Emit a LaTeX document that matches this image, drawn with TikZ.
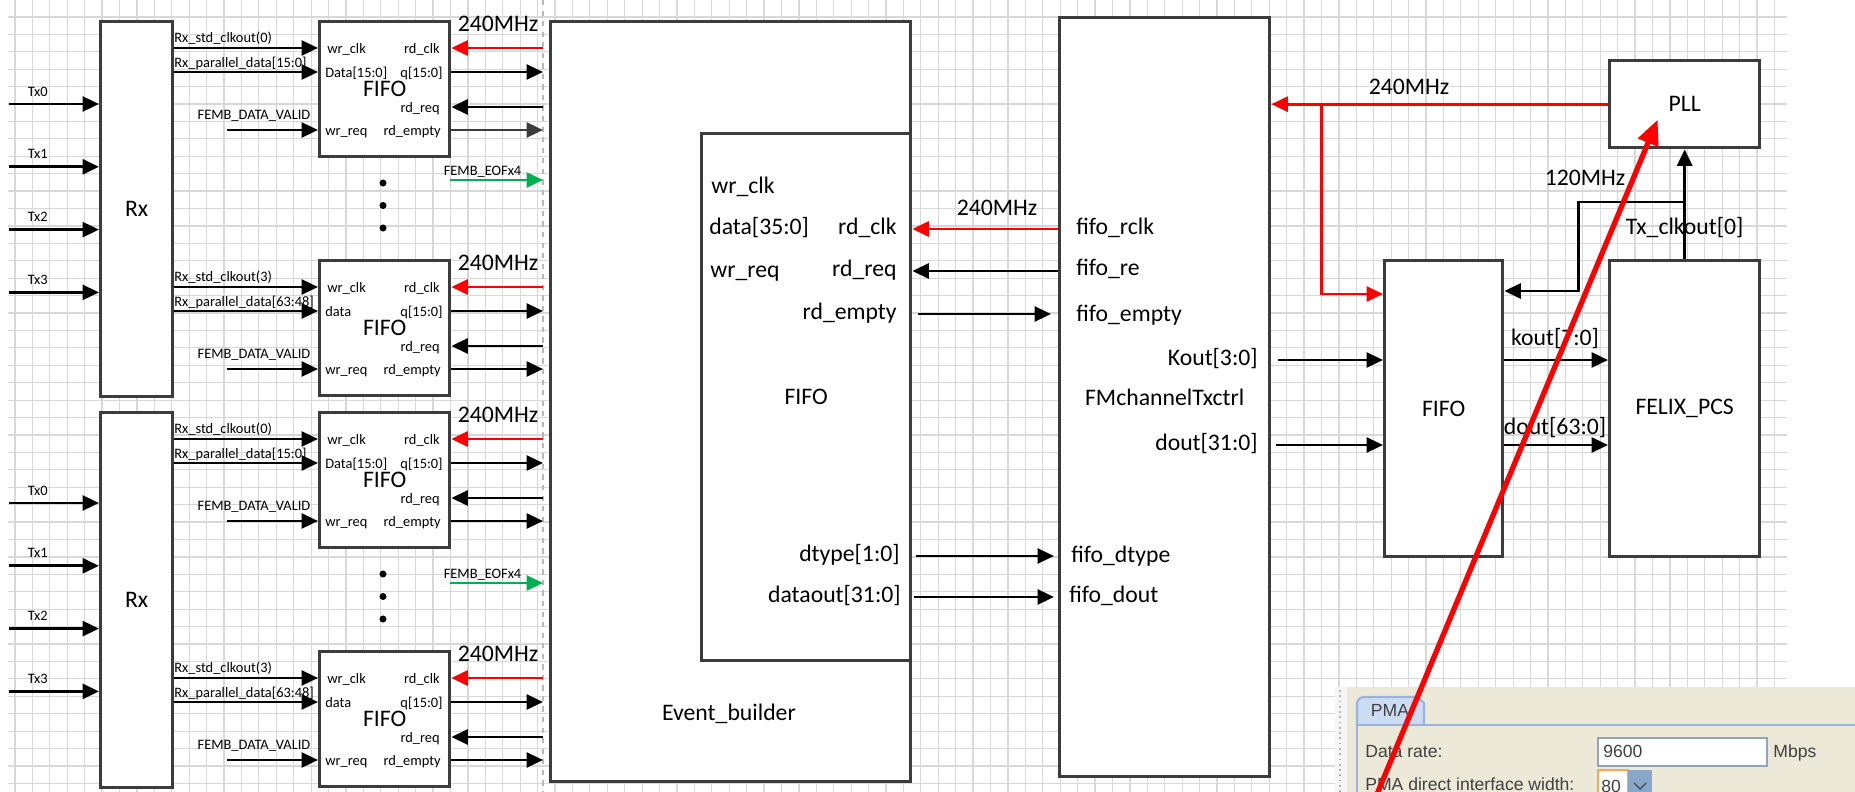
\documentclass[tikz,border=0pt]{standalone}
\usepackage{fontspec}
\setmainfont{Carlito}
\newfontfamily\finestra{Liberation Sans}
\usetikzlibrary{positioning,calc,arrows.meta}
\definecolor{vora}{RGB}{60,60,60}
\definecolor{rellotge}{RGB}{255,0,0}
\definecolor{verd}{RGB}{0,176,80}
\definecolor{reixa}{RGB}{216,216,216}
\definecolor{panell}{RGB}{236,233,216}
\definecolor{pestanya}{RGB}{204,221,243}
\definecolor{voraBlava}{RGB}{152,180,218}
\definecolor{boto}{RGB}{138,166,200}
\tikzset{
    Bloc/.style={draw=vora, line width=1.9pt, fill=white, rectangle, anchor=north west, inner sep=0pt, font=\fontsize{13.5}{15}\selectfont},
    Senyal/.style={line width=1.6pt, -{Triangle[length=3.3mm,width=3mm]}},
    Rellotge/.style={Senyal, draw=rellotge},
    Petit/.style={font=\fontsize{8.2}{9}\selectfont, inner sep=0pt, text height=1.6ex, text depth=.4ex},
    Gran/.style={font=\fontsize{13.5}{15}\selectfont, inner sep=0pt, text height=1.6ex, text depth=.4ex},
    Reixa/.style={draw=reixa, line width=0.7pt},
    Finestra/.style={font=\finestra\fontsize{10}{12}\selectfont, text=black!75, inner sep=0pt, text height=1.6ex, text depth=.4ex},
    Nota/.style={draw=rellotge, line width=3pt, -{Triangle[length=5mm,width=4.2mm]}}
    }

\begin{document}
\begin{tikzpicture}[x=0.2mm, y=-0.2mm]
\useasboundingbox (0,0) rectangle (1855,792);
\fill[white] (0,0) rectangle (1855,792);

% reixa del full
\foreach \k in {0,...,101} \draw[Reixa] ({15+17.42*\k},0) -- ++(0,792);
\foreach \k in {0,...,44} \draw[Reixa] (8,{16.9+17.42*\k}) -- (1787,{16.9+17.42*\k});
\coordinate (Tall) at (543,0);
\draw[gray!55, dashed, line width=0.8pt] (Tall) -- ++(0,792);

% receptors
\foreach \g/\ry/\tx/\eof in {A/20/104/180, B/411/503/583}{
  \node[Bloc, minimum width=14.4mm, minimum height=75mm] (Rx\g) at (99,\ry) {Rx};
  \foreach \n in {0,...,3}{
    \coordinate (Tx\g\n) at (9,{\tx+62.8*\n});
    \draw[Senyal] (Tx\g\n) -- (Tx\g\n -| Rx\g.west) node[Petit, pos=0.32, yshift=2.6mm] {Tx\n};
  }
  \foreach \d in {0,1,2} \fill (383,{\ry+163+22.5*\d}) circle (2pt);
  \coordinate (Eof\g) at (450,\eof);
  \draw[Senyal, draw=verd] (Eof\g) -- (Tall |- Eof\g) node[Petit, pos=0.35, yshift=2mm] {FEMB\_EOFx4};
}

\foreach \i/\fy/\g/\clk/\pd/\din/\col in {1/20/A/0/15:0/Data[15:0]/vora, 2/259/A/3/63:48/data/black, 3/411/B/0/15:0/Data[15:0]/black, 4/650/B/3/63:48/data/black}{
  \node[Bloc, minimum width=26mm, minimum height=27mm] (F\i) at (318,\fy) {FIFO};
  \node[Petit, anchor=west] (wc\i) at (327,{\fy+28}) {wr\_clk};
  \node[Petit, anchor=east] (rc\i) at (440,{\fy+28}) {rd\_clk};
  \node[Petit, anchor=west] (di\i) at (325,{\fy+52}) {\din};
  \node[Petit, anchor=east] (qo\i) at (443,{\fy+52}) {q[15:0]};
  \node[Petit, anchor=east] (rr\i) at (440,{\fy+87}) {rd\_req};
  \node[Petit, anchor=west] (wr\i) at (325,{\fy+110}) {wr\_req};
  \node[Petit, anchor=east] (re\i) at (441,{\fy+110}) {rd\_empty};
  \node[Petit, anchor=west] (ck\i) at (174,{\fy+17}) {Rx\_std\_clkout(\clk)};
  \node[Petit, anchor=west] (pd\i) at (174,{\fy+42}) {Rx\_parallel\_data[\pd]};
  \node[Petit] (dv\i) at (254,{\fy+94}) {FEMB\_DATA\_VALID};
  \node[Gran] (MHz\i) at (498,{\fy+6}) {240MHz};
  \coordinate (Val\i) at (227,{\fy+110});
  \draw[Senyal] (Rx\g.east |- wc\i) -- (F\i.west |- wc\i);
  \draw[Senyal] (Rx\g.east |- di\i) -- (F\i.west |- di\i);
  \draw[Senyal] (Val\i) -- (F\i.west |- Val\i);
  \draw[Rellotge] (Tall |- rc\i) -- (F\i.east |- rc\i);
  \draw[Senyal] (F\i.east |- qo\i) -- (Tall |- qo\i);
  \draw[Senyal] (Tall |- rr\i) -- (F\i.east |- rr\i);
  \draw[Senyal, draw=\col] (F\i.east |- re\i) -- (Tall |- re\i);
}

% constructor d'events
\node[Bloc, minimum width=72mm, minimum height=152mm] (EB) at (549,20) {};
\node[Gran] (EBnom) at (729,715) {Event\_builder};
\node[Bloc, minimum width=41.8mm, minimum height=105.4mm] (FifoEB) at (700,132) {FIFO};
\node[Gran, anchor=west] (eWc) at (711,188) {wr\_clk};
\node[Gran, anchor=west] (eDin) at (709,229) {data[35:0]};
\node[Gran, anchor=west] (eWr) at (710,272) {wr\_req};
\node[Gran, anchor=east] (eRc) at (897,229) {rd\_clk};
\node[Gran, anchor=east] (eRr) at (897,271) {rd\_req};
\node[Gran, anchor=east] (eRe) at (897,314) {rd\_empty};
\node[Gran, anchor=east] (eTy) at (900,556) {dtype[1:0]};
\node[Gran, anchor=east] (eDo) at (901,597) {dataout[31:0]};

\node[Bloc, minimum width=42mm, minimum height=151.8mm] (FMC) at (1058,16) {FMchannelTxctrl};
\node[Gran, anchor=west] (fRc) at (1076,229) {fifo\_rclk};
\node[Gran, anchor=west] (fRe) at (1076,270) {fifo\_re};
\node[Gran, anchor=west] (fEm) at (1076,316) {fifo\_empty};
\node[Gran, anchor=west] (fTy) at (1071,557) {fifo\_dtype};
\node[Gran, anchor=west] (fDo) at (1069,597) {fifo\_dout};
\node[Gran, anchor=east] (KoutTx) at (1258,360) {Kout[3:0]};
\node[Gran, anchor=east] (DoutTx) at (1258,445) {dout[31:0]};

\draw[Rellotge] (FMC.west |- eRc) -- (FifoEB.east |- eRc);
\node[Gran] (MHzEB) at (997,210) {240MHz};
\draw[Senyal] (FMC.west |- eRr) -- (FifoEB.east |- eRr);
\draw[Senyal] ($(FifoEB.east |- eRe)+(6,0)$) -- ($(FMC.west |- eRe)+(-7,0)$);
\draw[Senyal] ($(FifoEB.east |- eTy)+(4,0)$) -- ($(FMC.west |- eTy)+(-4,0)$);
\draw[Senyal] ($(FifoEB.east |- eDo)+(2,0)$) -- ($(FMC.west |- eDo)+(-4,0)$);

% PLL, FIFO i PCS
\node[Bloc, minimum width=30mm, minimum height=17.4mm] (PLL) at (1608,59) {PLL};
\node[Bloc, minimum width=23.6mm, minimum height=59.2mm] (FifoTx) at (1383,259) {FIFO};
\node[Bloc, minimum width=30mm, minimum height=59.2mm] (PCS) at (1608,259) {FELIX\_PCS};

\draw[Rellotge] (PLL.west) -- (FMC.east |- PLL.west);
\node[Gran] (MHzPLL) at (1409,89) {240MHz};
\coordinate (Branca) at ($(FMC.east |- PLL.west)+(50,0)$);
\draw[Rellotge] (Branca) |- ($(FifoTx.north west)+(0,35)$);

\draw[Senyal] (PCS.north) -- (PLL.south) node[Gran, pos=0.265] (TxClk) {Tx\_clkout[0]};
\coordinate (Nus) at ($(PLL.south)!0.48!(PCS.north)$);
\draw[Senyal] (Nus) -- ++(-106,0) |- ($(FifoTx.north east)+(0,32)$);
\node[Gran] (MHz120) at (1585,180) {120MHz};

\draw[Senyal] ($(FMC.east |- KoutTx)+(7,0)$) -- (FifoTx.west |- KoutTx);
\draw[Senyal] ($(FMC.east |- DoutTx)+(5,0)$) -- (FifoTx.west |- DoutTx);
\draw[Senyal] (FifoTx.east |- KoutTx) -- (PCS.west |- KoutTx);
\node[Gran] (KoutPcs) at (1555,340) {kout[7:0]};
\draw[Senyal] (FifoTx.east |- DoutTx) -- (PCS.west |- DoutTx);
\node[Gran] (DoutPcs) at (1555,429) {dout[63:0]};

% finestra PMA
\fill[gray!8] (1335,687) rectangle (1347,792);
\fill[panell] (1347,687) rectangle (1855,792);
\draw[gray!60, dotted, line width=1pt] (1340,690) -- (1340,792);
\draw[voraBlava, line width=1.2pt, fill=pestanya] (1357,724) -- (1357,704) to[out=90,in=180] (1364,697) -- (1418,697) -- (1424,703) -- (1424,724);
\draw[voraBlava, line width=1.6pt] (1357,792) -- (1357,725) -- (1855,725);
\node[Finestra] (PMA) at (1390,711) {PMA};
\node[Finestra, anchor=west] (Drate) at (1365,752) {Data rate:};
\node[Finestra, anchor=west] (Dwidth) at (1365,785) {PMA direct interface width:};
\filldraw[fill=white, draw=voraBlava!70!gray, line width=1pt] (1598,738) rectangle (1767,766);
\node[Finestra, anchor=west] (Rate) at (1603,752) {9600};
\node[Finestra, anchor=west] (Mbps) at (1773,752) {Mbps};
\filldraw[fill=white, draw=orange!70, line width=1pt] (1598,770) rectangle (1628,800);
\fill[boto] (1628,770) rectangle (1652,800);
\draw[boto!50!black, line width=0.8pt] (1634,783) -- (1640,789) -- (1646,783);
\node[Finestra, anchor=west] (Ample) at (1601,787) {80};

% fletxa de nota
\coordinate (NotaIni) at (1372,806);
\draw[Nota] (NotaIni) -- ($(PLL.center)+(-27,15.5)$);

\end{tikzpicture}
\end{document}
